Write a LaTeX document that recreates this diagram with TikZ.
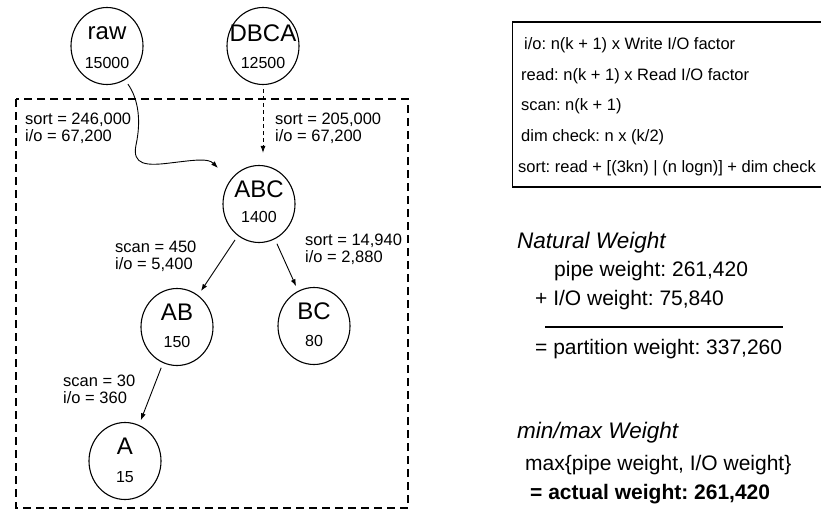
\documentclass[tikz,border=0pt]{standalone}
\usepackage{fontspec}
\setmainfont{Liberation Sans}
\usetikzlibrary{shapes.geometric,arrows.meta}
\begin{document}
\frenchspacing
\begin{tikzpicture}[x=1pt,y=-1pt,
  circ/.style={ellipse,draw,line width=1.1pt,minimum width=72pt,minimum height=77pt,inner sep=0pt},
  big/.style={font=\fontsize{24}{24}\selectfont,inner sep=0pt},
  num/.style={font=\fontsize{16}{16}\selectfont,inner sep=0pt},
  lab/.style={font=\fontsize{16.5}{17}\selectfont,align=left,anchor=west,inner sep=0pt},
  boxtxt/.style={font=\fontsize{16.5}{16.5}\selectfont,anchor=west,inner sep=0pt},
  wtxt/.style={font=\fontsize{21}{21}\selectfont,anchor=west,inner sep=0pt},
  whead/.style={font=\fontsize{22.5}{22.5}\selectfont\itshape,anchor=west,inner sep=0pt},
  arr/.style={-{Latex[length=7pt,width=5pt]},line width=0.9pt},
  partbox/.style={draw,dash pattern=on 8pt off 5pt,line width=1.2pt}
]
\useasboundingbox (0,0) rectangle (821,514);

% partition box
\draw[partbox] (16,99) rectangle (408,508);

% nodes
\node[circ] (raw) at (107,46) {};
\node[big] at ([yshift=13pt]raw.center) {raw};
\node[num] at ([yshift=-17pt]raw.center) {15000};

\node[circ] (DBCA) at (263,46) {};
\node[big] at ([yshift=13pt]DBCA.center) {DBCA};
\node[num] at ([yshift=-17pt]DBCA.center) {12500};

\node[circ] (ABC) at (259,204) {};
\node[big] at ([yshift=15pt]ABC.center) {ABC};
\node[num] at ([yshift=-13pt]ABC.center) {1400};

\node[circ] (AB) at (177,327) {};
\node[big] at ([yshift=15pt]AB.center) {AB};
\node[num] at ([yshift=-15pt]AB.center) {150};

\node[circ] (BC) at (314,326) {};
\node[big] at ([yshift=15pt]BC.center) {BC};
\node[num] at ([yshift=-15pt]BC.center) {80};

\node[circ] (A) at (125,461) {};
\node[big] at ([yshift=15pt]A.center) {A};
\node[num] at ([yshift=-16pt]A.center) {15};

% connectors
\coordinate (rawtip) at (218,168);
\draw[arr,shorten <=5pt] (raw.-62) .. controls (139,100) and (141,122) .. (136,145)
  .. controls (132,165) and (146,166) .. (170,163)
  .. controls (195,160) and (208,158) .. (rawtip);
\draw[arr,dash pattern=on 4pt off 3pt,shorten <=4pt,shorten >=12pt] (DBCA.south) -- (DBCA.south |- ABC.north);
\draw[arr,shorten <=5pt,shorten >=5pt] (ABC) -- (AB);
\draw[arr,shorten <=5pt,shorten >=5pt] (ABC) -- (BC);
\draw[arr,shorten <=5pt,shorten >=5pt] (AB) -- (A);

% edge labels
\node[lab] (l1) at (25,128.5) {sort = 246,000\\i/o = 67,200};
\node[lab] (l2) at (275,128.5) {sort = 205,000\\i/o = 67,200};
\node[lab] (l3) at (115,256) {scan = 450\\i/o = 5,400};
\node[lab] (l4) at (305,249) {sort = 14,940\\i/o = 2,880};
\node[lab] (l5) at (63,389) {scan = 30\\i/o = 360};

% formula box (right side cut by the picture edge)
\draw[line width=1.4pt] (821,22) -| (512.5,187) -- (821,187);
\node[boxtxt] (f1) at (524,45) {i/o: n(k + 1) x Write I/O factor};
\node[boxtxt] (f2) at (521,76) {read: n(k + 1) x Read I/O factor};
\node[boxtxt] (f3) at (521,106) {scan: n(k + 1)};
\node[boxtxt] (f4) at (521,137) {dim check: n x (k/2)};
\node[boxtxt] (f5) at (518,168) {sort: read + [(3kn) | (n logn)] + dim check};

% weights
\node[whead] (nw) at (517,243) {Natural Weight};
\node[wtxt] (pw) at (554,271) {pipe weight: 261,420};
\node[wtxt] (iw) at (535,300) {+ I/O weight: 75,840};
\draw[line width=1.2pt] (545,327) -- (783,327);
\node[wtxt] (tw) at (535,349) {= partition weight: 337,260};
\node[whead] (mw) at (517,433) {min/max Weight};
\node[wtxt] (mx) at (525,465) {max\{pipe weight, I/O weight\}};
\node[wtxt] (aw) at (530,494) {\bfseries = actual weight: 261,420};
\end{tikzpicture}
\end{document}
